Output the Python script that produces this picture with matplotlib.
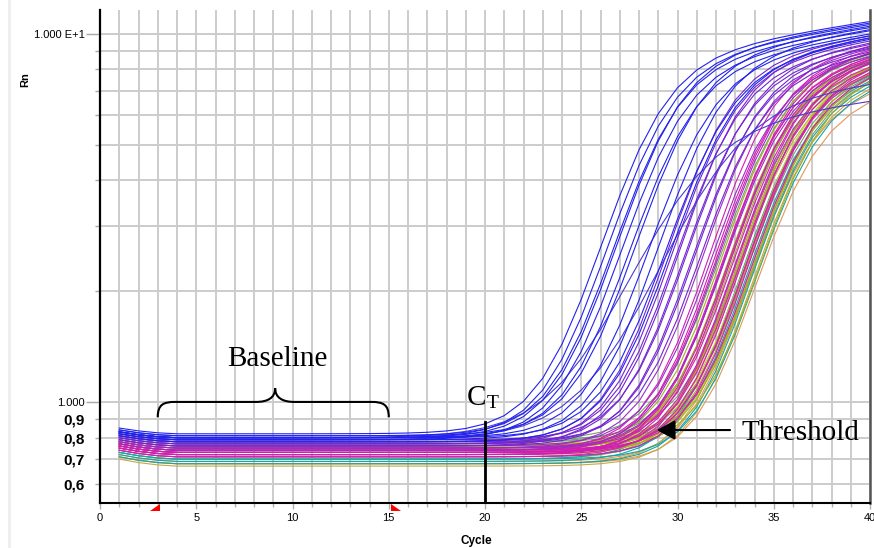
# qPCR amplification plot (Rn vs cycle, log scale) with baseline / Ct / threshold notes

import numpy as np
import matplotlib.pyplot as plt
from matplotlib.path import Path
from matplotlib.patches import PathPatch
from matplotlib.lines import Line2D
from matplotlib.ticker import FixedLocator, FuncFormatter

plt.rcParams['font.family'] = ['Liberation Sans', 'DejaVu Sans']

cycles = np.arange(1, 41)

# per well: baseline Rn, mid-rise cycle, Rn at cycle 40
blue_base = [0.82, 0.80, 0.81, 0.80, 0.79, 0.80, 0.81, 0.80, 0.79, 0.80, 0.78]
blue_mid = [27.8, 28.1, 28.4, 28.6, 28.8, 29.2, 29.6, 30.2, 30.8, 31.1, 31.4]
blue_top = [10.8, 10.6, 10.4, 10.7, 10.2, 10.0, 10.5, 9.9, 10.3, 9.7, 9.8]

slow_base = [0.80, 0.79]
slow_mid = [29.4, 31.2]
slow_top = [6.6, 7.4]

purple_base = [0.78, 0.77, 0.78, 0.76, 0.77, 0.79, 0.76, 0.77, 0.78]
purple_mid = [31.2, 31.4, 31.6, 31.8, 32.0, 32.2, 32.4, 32.6, 32.8]
purple_top = [9.9, 9.6, 9.4, 9.8, 9.2, 9.5, 9.0, 9.3, 8.9]

violet_base = [0.75, 0.76, 0.74, 0.75]
violet_mid = [33.0, 33.4, 33.8, 34.1]
violet_top = [9.2, 8.8, 9.0, 8.6]

magenta_base = [0.74, 0.73, 0.75, 0.72, 0.74, 0.73, 0.72, 0.75, 0.73, 0.74, 0.72, 0.73, 0.71, 0.74]
magenta_mid = [33.4, 33.6, 33.8, 34.0, 34.2, 34.3, 34.5, 34.6, 34.8, 34.9, 35.1, 35.2, 35.4, 35.5]
magenta_top = [9.4, 9.0, 9.2, 8.7, 9.1, 8.5, 8.9, 8.6, 8.8, 8.3, 8.7, 8.2, 8.4, 8.0]

pink_base = [0.72, 0.71, 0.73]
pink_mid = [34.1, 34.7, 35.2]
pink_top = [8.8, 8.4, 8.1]

olive_base = [0.75, 0.74, 0.76, 0.73, 0.75, 0.74, 0.72, 0.76, 0.73, 0.74]
olive_mid = [34.0, 34.3, 34.6, 34.8, 35.0, 35.2, 35.4, 35.6, 35.7, 35.9]
olive_top = [9.0, 8.6, 8.8, 8.4, 8.7, 8.2, 8.5, 8.0, 8.3, 7.9]

lime_base = [0.76, 0.75, 0.77, 0.74]
lime_mid = [34.4, 34.9, 35.3, 35.6]
lime_top = [8.7, 8.3, 8.5, 8.0]

khaki_base = [0.70, 0.68, 0.67]
khaki_mid = [34.8, 35.3, 35.6]
khaki_top = [8.0, 7.7, 7.5]

sage_base = [0.79, 0.78, 0.79, 0.78, 0.77]
sage_mid = [33.9, 34.4, 34.9, 35.3, 35.6]
sage_top = [8.9, 8.5, 8.3, 8.0, 7.8]

teal_base = [0.70, 0.69, 0.71, 0.68, 0.70]
teal_mid = [34.6, 35.0, 35.3, 35.5, 35.7]
teal_top = [8.3, 8.0, 7.8, 7.6, 7.4]

orange_base = [0.69, 0.68]
orange_mid = [35.3, 35.6]
orange_top = [7.2, 6.9]

# all wells read a bit high on the first cycles
start_offset = [0.03, 0.015, 0.005]

# colour, rise width (cycles), plateau drift (Rn per cycle), wells
groups = [
    ('#e0985a', 1.6, 0.2, orange_base, orange_mid, orange_top),
    ('#c4aa48', 1.6, 0.2, khaki_base, khaki_mid, khaki_top),
    ('#18a4a4', 1.6, 0.2, teal_base, teal_mid, teal_top),
    ('#72a070', 1.6, 0.2, sage_base, sage_mid, sage_top),
    ('#bfd030', 1.6, 0.2, lime_base, lime_mid, lime_top),
    ('#a4b020', 1.6, 0.2, olive_base, olive_mid, olive_top),
    ('#e0309a', 1.6, 0.2, pink_base, pink_mid, pink_top),
    ('#d01eb4', 1.6, 0.2, magenta_base, magenta_mid, magenta_top),
    ('#9c2cc8', 1.6, 0.2, violet_base, violet_mid, violet_top),
    ('#7424d4', 1.6, 0.2, purple_base, purple_mid, purple_top),
    ('#4a3ad8', 2.2, 0.1, slow_base, slow_mid, slow_top),
    ('#2222ee', 1.65, 0.2, blue_base, blue_mid, blue_top),
]


def amplification(base, mid, top, width, drift):
    rise = 1 / (1 + np.exp(-(cycles - mid) / width))
    height = np.maximum(top - base - drift * (40 - cycles), 0)
    rn = base + height * rise
    rn[:len(start_offset)] += start_offset
    return rn


fig = plt.figure(figsize=(8.74, 5.48), dpi=100)
ax = fig.add_axes([100 / 874, 45 / 548, 770 / 874, 493 / 548])

for color, width, drift, bases, mids, tops in groups:
    for b, m, t in zip(bases, mids, tops):
        ax.plot(cycles, amplification(b, m, t, width, drift), color=color, lw=0.8, zorder=2)

ax.set_yscale('log')
ax.set_xlim(0, 40)
ax.set_ylim(0.532, 11.6)

# y ticks: original labels on 10 and 1, pasted bold labels on 0.6-0.9
ax.yaxis.set_major_locator(FixedLocator([1, 10]))
ax.yaxis.set_major_formatter(FuncFormatter(lambda v, p: {1: '1.000', 10: '1.000 E+1'}.get(int(round(v)), '')))
minor_y = [0.6, 0.7, 0.8, 0.9, 2, 3, 4, 5, 6, 7, 8, 9]
ax.yaxis.set_minor_locator(FixedLocator(minor_y))
ax.yaxis.set_minor_formatter(FuncFormatter(lambda v, p: '0,%d' % round(v * 10) if v < 1 else ''))
ax.tick_params(axis='y', which='major', length=10, width=1, color='#a8a8a8', labelsize=8, pad=1)
ax.tick_params(axis='y', which='minor', length=3.6, width=1, color='#a8a8a8', labelsize=11, pad=7.5)
plt.setp(ax.yaxis.get_minorticklabels(), fontweight='bold')

ax.set_xticks(range(0, 41, 5))
ax.set_xticks(range(41), minor=True)
ax.tick_params(axis='x', which='major', length=4.5, width=1, color='#b0b0b0', labelsize=8, pad=3)
ax.tick_params(axis='x', which='minor', length=3.2, width=1, color='#b0b0b0')

ax.grid(axis='both', which='both', color='#cccccc', lw=1.4)
ax.set_axisbelow(True)

ax.spines['top'].set_visible(False)
ax.spines['left'].set_linewidth(1.6)
ax.spines['bottom'].set_linewidth(1.5)
ax.spines['right'].set_color('#555555')
ax.spines['right'].set_linewidth(1.8)

fig.text(25 / 874, 1 - 80 / 548, 'Rn', rotation=90, fontsize=8, fontweight='bold', ha='center', va='center')
fig.text(476 / 874, 1 - 541 / 548, 'Cycle', fontsize=8.5, fontweight='bold', ha='center', va='center')
fig.add_artist(Line2D([9 / 874, 9 / 874], [0, 1], color='#eeeeee', lw=2))

# red baseline start / end markers under the axis
xt = ax.get_xaxis_transform()
ax.plot([3], [0], transform=xt, marker=[(2, -1), (2, -7), (-7, -7)], ms=12, color='red', mew=0, clip_on=False, zorder=7)
ax.plot([15], [0], transform=xt, marker=[(2, -1), (2, -7), (10, -7)], ms=17, color='red', mew=0, clip_on=False, zorder=7)

# baseline brace
brace = Path(
    [(3, 0.174), (3, 0.200), (3.3, 0.205), (3.9, 0.205),
     (8.1, 0.205),
     (8.7, 0.205), (9.1, 0.213), (9.1, 0.233),
     (9.1, 0.213), (9.5, 0.205), (10.1, 0.205),
     (14.1, 0.205),
     (14.7, 0.205), (15, 0.200), (15, 0.174)],
    [Path.MOVETO, Path.CURVE4, Path.CURVE4, Path.CURVE4,
     Path.LINETO,
     Path.CURVE4, Path.CURVE4, Path.CURVE4,
     Path.CURVE4, Path.CURVE4, Path.CURVE4,
     Path.LINETO,
     Path.CURVE4, Path.CURVE4, Path.CURVE4])
ax.add_patch(PathPatch(brace, transform=xt, fill=False, lw=1.5, color='black', clip_on=False, zorder=6))

serif = 'Liberation Serif'
ax.text(9.2, 0.278, 'Baseline', transform=xt, family=serif, fontsize=21, ha='center', va='baseline')

# Ct line and label
ax.axvline(20, ymin=0, ymax=0.164, color='black', lw=2, zorder=6)
ax.text(19.55, 0.199, 'C', transform=xt, family=serif, fontsize=21, ha='center', va='baseline')
ax.text(20.4, 0.193, 'T', transform=xt, family=serif, fontsize=14, ha='center', va='baseline')

# threshold arrow and label
ax.annotate('', xy=(28.92, 0.148), xytext=(32.73, 0.148), xycoords=xt, textcoords=xt,
            arrowprops=dict(arrowstyle='-|>,head_length=0.75,head_width=0.4', mutation_scale=15,
                            lw=1.5, color='black', shrinkA=0, shrinkB=0), zorder=6)
ax.text(33.35, 0.128, 'Threshold', transform=xt, family=serif, fontsize=21, ha='left', va='baseline')

fig.savefig('out.png', dpi=100)
